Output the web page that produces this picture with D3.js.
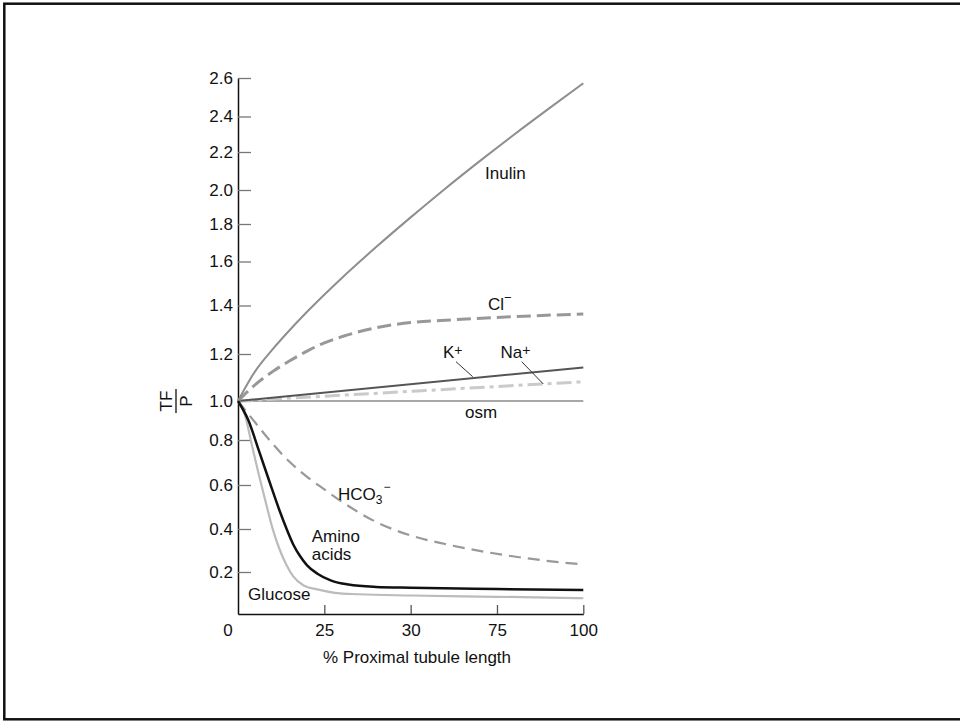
<!DOCTYPE html>
<html>
<head>
<meta charset="utf-8">
<script src="https://cdn.jsdelivr.net/npm/d3@7"></script>
<style>
  body { margin: 0; background: #fff; }
  svg { display: block; }
  text { font-family: "Liberation Sans", Arial, sans-serif; }
</style>
</head>
<body>
<svg width="960" height="721"></svg>
<script>
// Data (TF/P vs % proximal tubule length)
const xTickValues = [0, 25, 50, 75, 100];
const xTickLabels = ['0', '25', '30', '75', '100'];
const yTickValues = [0.2, 0.4, 0.6, 0.8, 1.0, 1.2, 1.4, 1.6, 1.8, 2.0, 2.2, 2.4, 2.6];

const inulinX = [0, 5, 10, 15, 20, 30, 40, 50, 60, 70, 80, 90, 100];
const inulinY = [1.0, 1.127, 1.219, 1.299, 1.374, 1.524, 1.677, 1.839, 2.007, 2.152, 2.299, 2.441, 2.573];

const clX = [0, 5, 10, 15, 20, 25, 30, 40, 50, 60, 75, 100];
const clY = [1.0, 1.070, 1.125, 1.171, 1.212, 1.246, 1.271, 1.308, 1.330, 1.339, 1.351, 1.365];

const kX = [0, 100];
const kY = [1.0, 1.143];

const naX = [0, 100];
const naY = [1.0, 1.082];

const osmX = [0, 100];
const osmY = [1.0, 1.0];

const hco3X = [0, 3, 6, 10, 15, 20, 25, 30, 40, 50, 60, 70, 80, 90, 100];
const hco3Y = [1.0, 0.933, 0.867, 0.784, 0.702, 0.636, 0.580, 0.525, 0.432, 0.370, 0.330, 0.298, 0.272, 0.251, 0.235];

const aminoX = [0, 3, 6, 9, 12, 14, 16, 18, 20, 23, 27, 32, 40, 50, 75, 100];
const aminoY = [1.0, 0.901, 0.755, 0.620, 0.485, 0.403, 0.328, 0.273, 0.231, 0.192, 0.159, 0.140, 0.129, 0.125, 0.119, 0.114];

const glucoseX = [0, 2, 4, 6, 8, 10, 12, 14, 16, 19, 23, 28, 35, 50, 75, 100];
const glucoseY = [1.0, 0.928, 0.779, 0.648, 0.524, 0.403, 0.307, 0.234, 0.179, 0.136, 0.117, 0.101, 0.094, 0.088, 0.082, 0.075];

const zip = (xs, ys) => xs.map((d, i) => [d, ys[i]]);

const svg = d3.select('svg');

// frame
svg.append('rect')
    .attr('x', 4.3).attr('y', 3.7)
    .attr('width', 1000).attr('height', 715.6)
    .attr('fill', 'none')
    .attr('stroke', '#111')
    .attr('stroke-width', 2.5);

const x = d3.scaleLinear().domain([0, 100]).range([238, 583.3]);
// the printed axis is hand-spaced, so the scale is piecewise through its ticks
const y = d3.scaleLinear()
    .domain([0, 0.2, 0.4, 0.6, 0.8, 1.0, 1.2, 1.4, 1.6, 1.8, 2.0, 2.2, 2.4, 2.6])
    .range([614, 572, 529, 485, 440, 401, 354, 305.5, 261.5, 224, 190, 152, 116.5, 78]);

// y axis
const yAxis = svg.append('g')
    .attr('transform', `translate(${x(0)},0)`)
    .call(d3.axisLeft(y)
        .tickValues(yTickValues)
        .tickSize(-13)
        .tickSizeOuter(0)
        .tickPadding(5)
        .tickFormat(d3.format('.1f')));
yAxis.select('.domain').attr('stroke', '#111').attr('stroke-width', 1.5);
yAxis.selectAll('.tick line').attr('stroke', '#777').attr('stroke-width', 1.3);
yAxis.selectAll('.tick text')
    .attr('fill', '#111')
    .style('font-size', '17px')
    .style('font-family', '"Liberation Sans", Arial, sans-serif');

// x axis
const xAxis = svg.append('g')
    .attr('transform', `translate(0,${y(0)})`)
    .call(d3.axisBottom(x)
        .tickValues(xTickValues)
        .tickSize(-9)
        .tickSizeOuter(0)
        .tickPadding(10)
        .tickFormat((d, i) => xTickLabels[i]));
xAxis.select('.domain').attr('stroke', '#111').attr('stroke-width', 1.5);
xAxis.selectAll('.tick line')
    .attr('stroke', '#555').attr('stroke-width', 1.3)
    .attr('display', d => d === 0 ? 'none' : null);
xAxis.selectAll('.tick text')
    .attr('fill', '#111')
    .attr('x', d => d === 0 ? -10.5 : 0)
    .style('font-size', '17px')
    .style('font-family', '"Liberation Sans", Arial, sans-serif');

svg.append('text')
    .attr('x', 417).attr('y', 663)
    .attr('text-anchor', 'middle')
    .style('font-size', '17px')
    .attr('fill', '#111')
    .text('% Proximal tubule length');

// TF / P fraction label
const yl = svg.append('g').attr('transform', 'translate(176,401) rotate(-90)');
yl.append('text').attr('x', 0).attr('y', -4).attr('text-anchor', 'middle')
    .style('font-size', '17px').attr('fill', '#111').text('TF');
yl.append('line').attr('x1', -12).attr('x2', 12).attr('y1', 0).attr('y2', 0)
    .attr('stroke', '#111').attr('stroke-width', 1.3);
yl.append('text').attr('x', 0).attr('y', 16).attr('text-anchor', 'middle')
    .style('font-size', '17px').attr('fill', '#111').text('P');

// curves
const line = d3.line()
    .x(d => x(d[0]))
    .y(d => y(d[1]))
    .curve(d3.curveMonotoneX);

const series = [
    { pts: zip(osmX, osmY), color: '#8a8a8a', width: 1.5, dash: null },
    { pts: zip(naX, naY), color: '#cacaca', width: 3, dash: '15,5,4,5' },
    { pts: zip(kX, kY), color: '#555', width: 2, dash: null },
    { pts: zip(clX, clY), color: '#989898', width: 3, dash: '14,6' },
    { pts: zip(inulinX, inulinY), color: '#8e8e8e', width: 2, dash: null },
    { pts: zip(hco3X, hco3Y), color: '#999', width: 2.2, dash: '12,7' },
    { pts: zip(glucoseX, glucoseY), color: '#bbb', width: 2.2, dash: null },
    { pts: zip(aminoX, aminoY), color: '#111', width: 2.5, dash: null }
];

svg.append('g').selectAll('path')
    .data(series)
    .join('path')
    .attr('d', d => line(d.pts))
    .attr('fill', 'none')
    .attr('stroke', d => d.color)
    .attr('stroke-width', d => d.width)
    .attr('stroke-dasharray', d => d.dash);

// annotations
const lab = svg.append('g').attr('fill', '#111').style('font-size', '17px');

lab.append('text').attr('x', 485).attr('y', 179).text('Inulin');

const cl = lab.append('text').attr('x', 488).attr('y', 310).text('Cl');
cl.append('tspan').attr('dy', -8).style('font-size', '13px').text('\u2212');

const k = lab.append('text').attr('x', 443).attr('y', 358).text('K');
k.append('tspan').attr('dy', -3).style('font-size', '14px').text('+');

const na = lab.append('text').attr('x', 500.5).attr('y', 358).text('Na');
na.append('tspan').attr('dy', -3).style('font-size', '14px').text('+');

svg.append('line').attr('x1', 456).attr('y1', 361.7).attr('x2', 472.7).attr('y2', 376.7)
    .attr('stroke', '#333').attr('stroke-width', 1);
svg.append('line').attr('x1', 521.7).attr('y1', 361.7).attr('x2', 543.3).attr('y2', 384)
    .attr('stroke', '#333').attr('stroke-width', 1);

lab.append('text').attr('x', 465).attr('y', 418).text('osm');

const hco = lab.append('text').attr('x', 338).attr('y', 500).text('HCO');
hco.append('tspan').attr('dy', 4).style('font-size', '12px').text('3');
hco.append('tspan').attr('dy', -13).attr('dx', 1).style('font-size', '12px').text('\u2212');

lab.append('text').attr('x', 311.7).attr('y', 542).text('Amino');
lab.append('text').attr('x', 311.7).attr('y', 560).text('acids');

lab.append('text').attr('x', 248).attr('y', 600).text('Glucose');
</script>
</body>
</html>
